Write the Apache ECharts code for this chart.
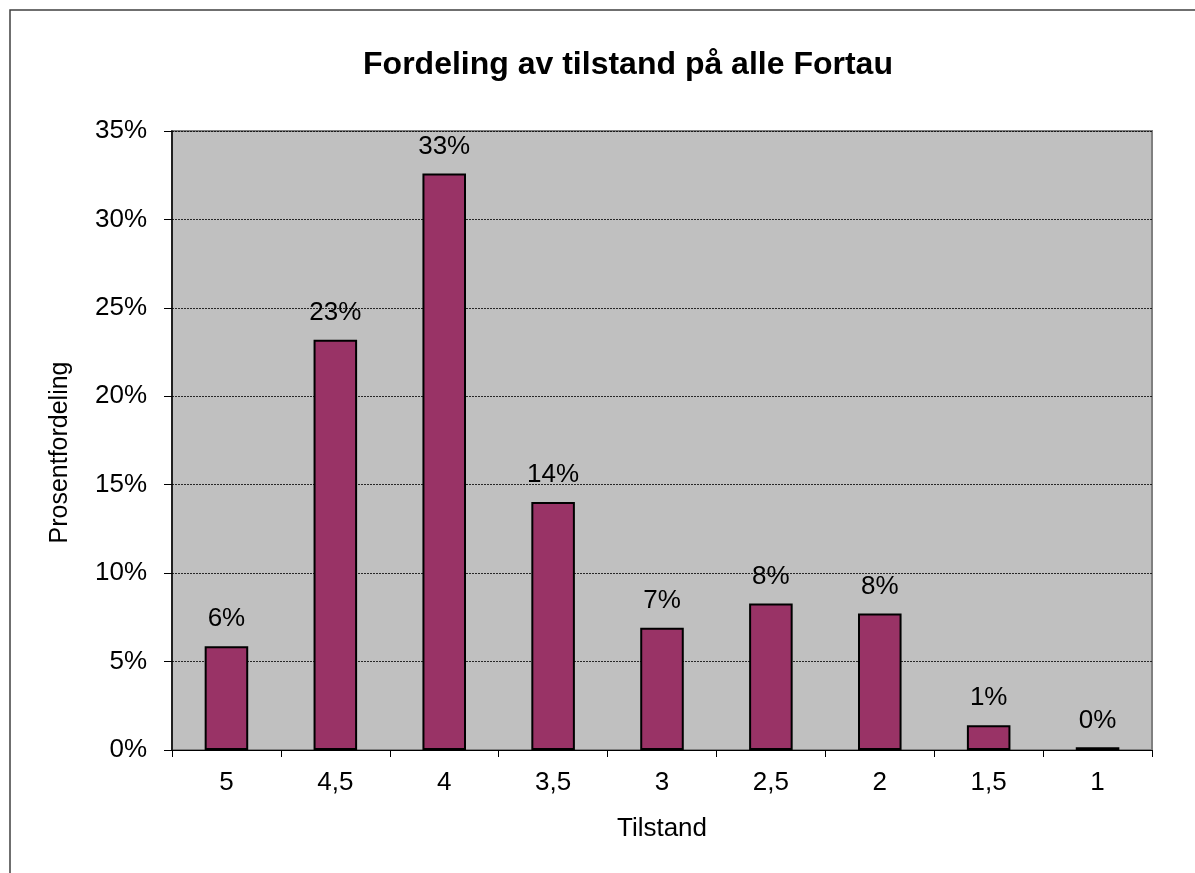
<!DOCTYPE html>
<html>
<head>
<meta charset="utf-8">
<script src="https://cdn.jsdelivr.net/npm/echarts@6/dist/echarts.min.js"></script>
<style>
html,body{margin:0;padding:0;background:#fff;}
#chart{width:1195px;height:873px;}
</style>
</head>
<body>
<div id="chart"></div>
<script>
var categories = ['5', '4,5', '4', '3,5', '3', '2,5', '2', '1,5', '1'];
var values = [5.87, 23.2, 32.6, 14.02, 6.91, 8.29, 7.72, 1.40, 0.15];
var yTicks = [0, 5, 10, 15, 20, 25, 30, 35];
var titleText = 'Fordeling av tilstand på alle Fortau';
var xName = 'Tilstand';
var yName = 'Prosentfordeling';

var chart = echarts.init(document.getElementById('chart'), null, {renderer: 'canvas'});
var font = 'Liberation Sans, Arial, sans-serif';
chart.setOption({
  animation: false,
  backgroundColor: '#ffffff',
  title: {
    text: titleText,
    left: 623, top: 44, textAlign: 'center',
    textStyle: {fontFamily: font, fontSize: 32, fontWeight: 'bold', color: '#000'}
  },
  graphic: [{
    type: 'rect', z: -1, silent: true,
    shape: {x: 10, y: 10, width: 1300, height: 1000},
    style: {fill: 'none', stroke: '#404040', lineWidth: 1.5}
  }],
  grid: {
    left: 172, right: 43, top: 131, bottom: 123,
    show: true, backgroundColor: '#C0C0C0', borderColor: '#808080', borderWidth: 2
  },
  xAxis: {
    type: 'category',
    data: categories,
    name: xName,
    nameLocation: 'middle',
    nameGap: 66,
    nameTextStyle: {fontFamily: font, fontSize: 26, color: '#000'},
    axisLine: {show: true, lineStyle: {color: '#000', width: 1}},
    axisTick: {show: true, length: 7, lineStyle: {color: '#000'}},
    axisLabel: {fontFamily: font, fontSize: 26, color: '#000', margin: 20},
    splitLine: {show: false}
  },
  yAxis: {
    type: 'value',
    min: 0, max: 35, interval: 5,
    name: yName,
    nameLocation: 'middle',
    nameGap: 99,
    nameTextStyle: {fontFamily: font, fontSize: 25, color: '#000', padding: [0, 0, 0, -24]},
    axisLine: {show: true, lineStyle: {color: '#000', width: 1.5}},
    axisTick: {show: true, length: 8, lineStyle: {color: '#000'}},
    axisLabel: {
      fontFamily: font, fontSize: 26, color: '#000', margin: 25,
      formatter: function (v) { return yTicks.indexOf(v) >= 0 ? v + '%' : ''; }
    },
    splitLine: {show: true, lineStyle: {color: '#000', type: [2, 1], width: 0.8}}
  },
  series: [{
    type: 'bar',
    data: values,
    barWidth: '40%',
    itemStyle: {color: '#993366', borderColor: '#000', borderWidth: 2},
    label: {
      show: true, position: 'top', distance: 14,
      fontFamily: font, fontSize: 26, color: '#000',
      formatter: function (p) { return Math.round(p.value) + '%'; }
    }
  }]
});
</script>
</body>
</html>
